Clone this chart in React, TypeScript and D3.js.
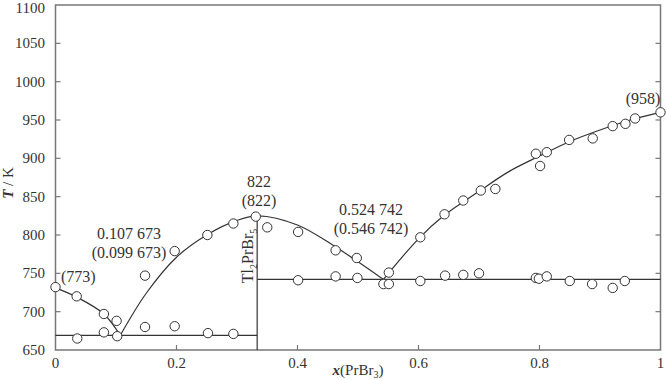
import React, { useEffect, useRef } from 'react';
import * as d3 from 'd3';

// measured points: [x(PrBr3), T/K]
const liquidusPts: [number, number][] = [
  [0, 732], [0.035, 720], [0.08, 697], [0.101, 688], [0.148, 747], [0.197, 779], [0.251, 800],
  [0.294, 815], [0.331, 824], [0.35, 810], [0.401, 804], [0.463, 780], [0.498, 770],
  [0.551, 751], [0.603, 797], [0.643, 827], [0.674, 845], [0.703, 858], [0.727, 860],
  [0.794, 906], [0.801, 890], [0.812, 908], [0.849, 924], [0.888, 926], [0.921, 942],
  [0.942, 945], [0.958, 952], [1, 960],
];
const solidusPts: [number, number][] = [
  [0.036, 665], [0.08, 673], [0.102, 668], [0.148, 680], [0.197, 681], [0.252, 672], [0.294, 671],
  [0.401, 741], [0.463, 746], [0.499, 744], [0.542, 736], [0.551, 736], [0.603, 740], [0.644, 747],
  [0.674, 748], [0.70, 750], [0.794, 744], [0.799, 743], [0.812, 746], [0.85, 740],
  [0.887, 736], [0.921, 731], [0.941, 740],
];

// curve knots
const curveA: [number, number][] = [[0, 731], [0.035, 719], [0.08, 697], [0.107, 669]];
const curveB: [number, number][] = [
  [0.107, 669], [0.15, 724], [0.2, 771], [0.25, 800], [0.3, 819], [0.335, 825],
  [0.4, 813], [0.46, 786], [0.5, 765], [0.542, 742],
];
const curveC: [number, number][] = [
  [0.542, 742], [0.6, 795], [0.643, 826], [0.7, 857], [0.75, 883], [0.8, 903],
  [0.85, 922], [0.9, 937], [0.95, 950], [1, 960],
];
const eutectic1 = 669;
const eutectic2 = 742;
const compound = 1 / 3;
const compoundMelt = 824;

const xTicks = [0, 0.2, 0.4, 0.6, 0.8, 1];
const xTickLabels = ['0', '0.2', '0.4', '0.6', '0.8', '1'];
const yTicks = [650, 700, 750, 800, 850, 900, 950, 1000, 1050, 1100];

const FONT = '"Liberation Serif", serif';
const INK = '#333';

export default function App() {
  const ref = useRef<SVGSVGElement>(null);

  useEffect(() => {
    const svg = d3.select(ref.current);
    svg.selectAll('*').remove();

    const x = d3.scaleLinear().domain([0, 1]).range([55.5, 660.5]);
    const y = d3.scaleLinear().domain([650, 1100]).range([350, 5]);

    const g = svg.append('g');

    // frame
    g.append('rect').attr('x', x(0)).attr('y', y(1100)).attr('width', x(1) - x(0)).attr('height', y(650) - y(1100))
      .attr('fill', 'none').attr('stroke', '#777').attr('stroke-width', 1.5);

    // ticks (inward)
    g.selectAll('.ytl').data(yTicks.slice(1, -1)).join('line').attr('class', 'ytl')
      .attr('x1', x(0)).attr('x2', x(0) + 5).attr('y1', d => y(d)).attr('y2', d => y(d)).attr('stroke', '#777').attr('stroke-width', 1.2);
    g.selectAll('.ytr').data(yTicks.slice(1, -1)).join('line').attr('class', 'ytr')
      .attr('x1', x(1)).attr('x2', x(1) - 5).attr('y1', d => y(d)).attr('y2', d => y(d)).attr('stroke', '#777').attr('stroke-width', 1.2);
    g.selectAll('.xt').data(xTicks.slice(1, -1)).join('line').attr('class', 'xt')
      .attr('x1', d => x(d)).attr('x2', d => x(d)).attr('y1', y(650)).attr('y2', y(650) - 5).attr('stroke', '#777').attr('stroke-width', 1.2);

    // tick labels
    g.selectAll('.yl').data(yTicks).join('text').attr('class', 'yl')
      .attr('x', 45).attr('y', d => Math.max(y(d) + 5, 13)).attr('text-anchor', 'end')
      .style('font-family', FONT).style('font-size', '15px').attr('fill', INK).text(d => d);
    g.selectAll('.xl').data(xTicks).join('text').attr('class', 'xl')
      .attr('x', d => x(d)).attr('y', 368).attr('text-anchor', 'middle')
      .style('font-family', FONT).style('font-size', '15px').attr('fill', INK).text((d, i) => xTickLabels[i]);

    // axis titles
    const xt = g.append('text').attr('x', 358).attr('y', 375).attr('text-anchor', 'middle')
      .style('font-family', FONT).style('font-size', '15px').attr('fill', INK);
    xt.append('tspan').style('font-weight', 'bold').style('font-style', 'italic').text('x');
    xt.append('tspan').text('(PrBr');
    xt.append('tspan').attr('dy', 3).style('font-size', '10px').text('3');
    xt.append('tspan').attr('dy', -3).text(')');

    const yt = g.append('text').attr('transform', 'translate(13,183) rotate(-90)').attr('text-anchor', 'middle')
      .style('font-family', FONT).style('font-size', '15px').attr('fill', INK);
    yt.append('tspan').style('font-weight', 'bold').style('font-style', 'italic').text('T');
    yt.append('tspan').text(' / K');

    // lines
    const line = d3.line<[number, number]>().x(d => x(d[0])).y(d => y(d[1])).curve(d3.curveCatmullRom.alpha(0.5));
    [curveA, curveB, curveC].forEach(c => {
      g.append('path').attr('d', line(c)).attr('fill', 'none').attr('stroke', INK).attr('stroke-width', 1.2);
    });
    g.append('line').attr('x1', x(0)).attr('x2', x(compound)).attr('y1', y(eutectic1)).attr('y2', y(eutectic1))
      .attr('stroke', INK).attr('stroke-width', 1.2);
    g.append('line').attr('x1', x(compound)).attr('x2', x(1)).attr('y1', y(eutectic2)).attr('y2', y(eutectic2))
      .attr('stroke', INK).attr('stroke-width', 1.2);
    g.append('line').attr('x1', x(compound)).attr('x2', x(compound)).attr('y1', y(650)).attr('y2', y(compoundMelt))
      .attr('stroke', INK).attr('stroke-width', 1.2);

    // points
    g.selectAll('.pt').data([...liquidusPts, ...solidusPts]).join('circle').attr('class', 'pt')
      .attr('cx', d => x(d[0])).attr('cy', d => y(d[1])).attr('r', 4.7)
      .attr('fill', 'white').attr('stroke', INK).attr('stroke-width', 1);

    // annotations
    const label = (px: number, py: number, txt: string, anchor = 'middle') =>
      g.append('text').attr('x', px).attr('y', py).attr('text-anchor', anchor)
        .style('font-family', FONT).style('font-size', '16px').attr('fill', INK).text(txt);
    label(61, 282, '(773)', 'start');
    label(129, 239, '0.107 673');
    label(129, 258, '(0.099 673)');
    label(259, 187, '822');
    label(259, 206, '(822)');
    label(371, 215, '0.524 742');
    label(371, 234, '(0.546 742)');
    label(643, 104, '(958)');

    const tl = g.append('text').attr('transform', 'translate(253,256) rotate(-90)').attr('text-anchor', 'middle')
      .style('font-family', FONT).style('font-size', '16px').attr('fill', INK);
    tl.append('tspan').text('Tl');
    tl.append('tspan').attr('dy', 4).style('font-size', '10px').text('2');
    tl.append('tspan').attr('dy', -4).text('PrBr');
    tl.append('tspan').attr('dy', 4).style('font-size', '10px').text('5');
  }, []);

  return <svg ref={ref} width={666} height={380} style={{ position: 'absolute', left: 0, top: 0, background: 'white' }} />;
}
